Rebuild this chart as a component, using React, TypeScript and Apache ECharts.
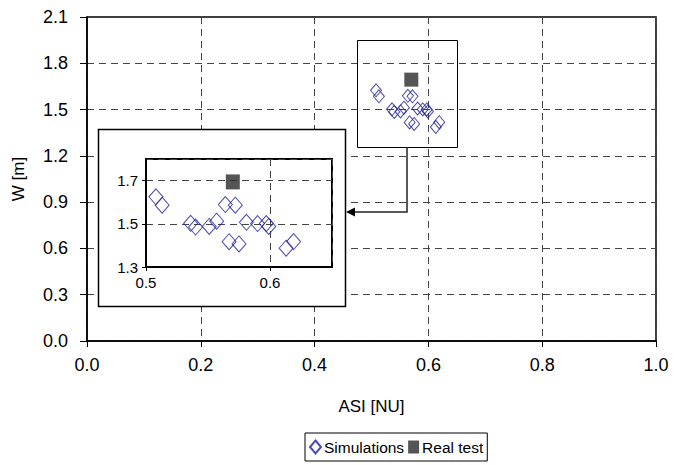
import React, { useEffect, useRef } from "react";
import * as echarts from "echarts";

const simASI = [0.508, 0.513, 0.536, 0.540, 0.551, 0.557, 0.564, 0.572, 0.567, 0.575, 0.581, 0.590, 0.597, 0.599, 0.613, 0.619];
const simW = [1.625, 1.586, 1.502, 1.485, 1.488, 1.512, 1.589, 1.586, 1.417, 1.407, 1.507, 1.501, 1.501, 1.488, 1.387, 1.418];
const realASI = [0.57];
const realW = [1.694];

const FONT = "Liberation Sans, Arial, sans-serif";
const DIAMOND = "#1f1f9a";
const SQUARE = "#2b2b2b";

export default function App() {
  const ref = useRef<HTMLDivElement>(null);
  useEffect(() => {
    if (!ref.current) return;
    const chart = echarts.init(ref.current, null, { renderer: "svg" });
    const sim = simASI.map((x, i) => [x, simW[i]]);
    const real = realASI.map((x, i) => [x, realW[i]]);
    const dash = { type: [7, 5] as any, color: "#444", width: 1 };
    const simStyle = { color: "rgba(0,0,0,0)", borderColor: DIAMOND, borderWidth: 1 };
    chart.setOption({
      animation: false,
      textStyle: { fontFamily: FONT },
      grid: [
        { left: 87, right: 21, top: 17, bottom: 124, show: true, borderColor: "#000", borderWidth: 1.5, z: 0 },
        { left: 146, top: 159, width: 186, height: 108, show: true, backgroundColor: "#fff", borderColor: "#000", borderWidth: 2, z: 4 },
      ],
      xAxis: [
        {
          gridIndex: 0, type: "value", min: 0, max: 1, interval: 0.2,
          name: "ASI [NU]", nameLocation: "middle", nameGap: 57,
          nameTextStyle: { fontSize: 17, color: "#000", fontFamily: FONT },
          axisLine: { lineStyle: { color: "#000", width: 1.5 } },
          axisTick: { show: true, length: 6, lineStyle: { color: "#000" } },
          axisLabel: { fontSize: 18, color: "#000", margin: 15, formatter: (v: number) => v.toFixed(1) },
          splitLine: { show: true, lineStyle: dash },
        },
        {
          gridIndex: 1, type: "value", min: 0.5, max: 0.65, interval: 0.1, z: 5,
          axisLine: { lineStyle: { color: "#000", width: 2 } },
          axisTick: { show: true, length: 4, lineStyle: { color: "#000" } },
          axisLabel: { fontSize: 15, color: "#000", margin: 8, showMaxLabel: false, formatter: (v: number) => v.toFixed(1) },
          splitLine: { show: true, lineStyle: dash },
        },
      ],
      yAxis: [
        {
          gridIndex: 0, type: "value", min: 0, max: 2.1, interval: 0.3,
          name: "W [m]", nameLocation: "middle", nameGap: 60, nameRotate: 90,
          nameTextStyle: { fontSize: 17, color: "#000", fontFamily: FONT },
          axisLine: { show: true, lineStyle: { color: "#000", width: 1.5 } },
          axisTick: { show: true, length: 7, lineStyle: { color: "#000" } },
          axisLabel: { fontSize: 18, color: "#000", margin: 19, formatter: (v: number) => v.toFixed(1) },
          splitLine: { show: true, lineStyle: dash },
        },
        {
          gridIndex: 1, type: "value", min: 1.3, max: 1.8, interval: 0.2, z: 5,
          axisLine: { show: true, lineStyle: { color: "#000", width: 2 } },
          axisTick: { show: true, length: 4, lineStyle: { color: "#000" } },
          axisLabel: { fontSize: 15, color: "#000", margin: 8, showMaxLabel: false, formatter: (v: number) => v.toFixed(1) },
          splitLine: { show: true, lineStyle: dash },
        },
      ],
      legend: {
        data: [
          { name: "Simulations", icon: "diamond" },
          { name: "Real test", icon: "rect" },
        ],
        left: 305, top: 433,
        itemWidth: 11, itemHeight: 13, itemGap: 4,
        padding: [6, 4, 6, 4],
        borderColor: "#000", borderWidth: 1,
        textStyle: { fontSize: 15.5, color: "#000", fontFamily: FONT, padding: [0, 0, 0, -2] },
      },
      graphic: [
        { type: "rect", z: 3, shape: { x: 98.5, y: 129.5, width: 247, height: 177 }, style: { fill: "#fff", stroke: "#000", lineWidth: 1.5 } },
        { type: "rect", z: 3, shape: { x: 357.5, y: 40.5, width: 100, height: 107 }, style: { fill: "none", stroke: "#000", lineWidth: 1 } },
        { type: "polyline", z: 3, shape: { points: [[407, 147], [407, 212], [353, 212]] }, style: { fill: "none", stroke: "#222", lineWidth: 1.5 } },
        { type: "polygon", z: 3, shape: { points: [[346, 212], [355, 207.5], [355, 216.5]] }, style: { fill: "#000" } },
      ],
      series: [
        {
          name: "Simulations", type: "scatter", xAxisIndex: 0, yAxisIndex: 0, data: sim,
          symbol: "diamond", symbolSize: [11, 13], itemStyle: simStyle, z: 2,
        },
        {
          name: "Real test", type: "scatter", xAxisIndex: 0, yAxisIndex: 0, data: real,
          symbol: "rect", symbolSize: 14, itemStyle: { color: SQUARE }, z: 2,
        },
        {
          name: "Simulations", type: "scatter", xAxisIndex: 1, yAxisIndex: 1, data: sim,
          symbol: "diamond", symbolSize: [14, 16], itemStyle: simStyle, z: 6,
        },
        {
          name: "Real test", type: "scatter", xAxisIndex: 1, yAxisIndex: 1, data: real,
          symbol: "rect", symbolSize: [14, 15], itemStyle: { color: SQUARE }, z: 6,
        },
      ],
    });
    return () => chart.dispose();
  }, []);
  return <div ref={ref} style={{ width: 677, height: 465, position: "absolute", left: 0, top: 0, background: "#fff" }} />;
}
